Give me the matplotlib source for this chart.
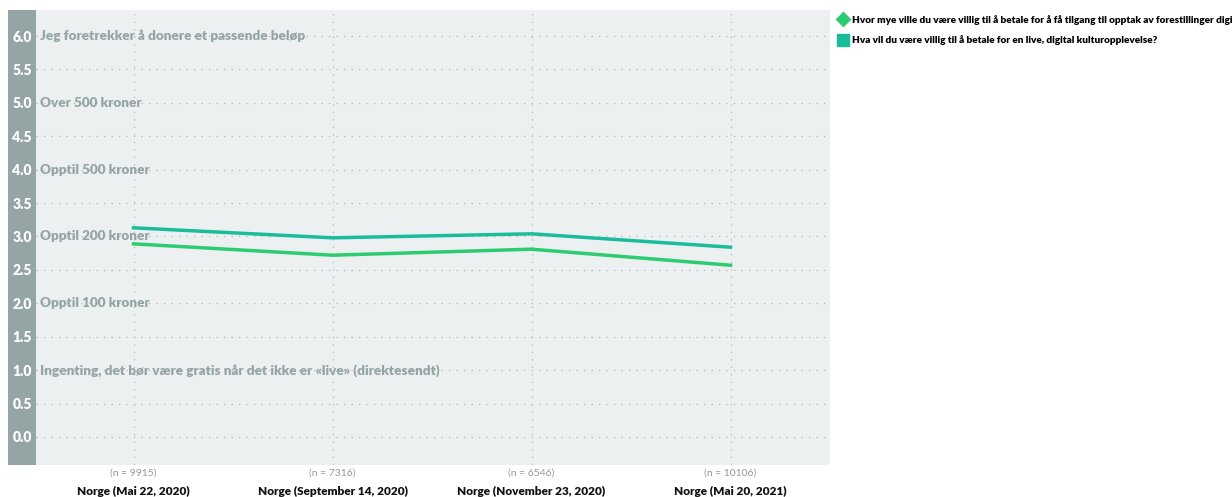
import matplotlib.pyplot as plt
from matplotlib.lines import Line2D
from matplotlib.patches import Rectangle

plt.rcParams['font.family'] = ['Lato', 'DejaVu Sans']

dates = ['Norge (Mai 22, 2020)', 'Norge (September 14, 2020)',
         'Norge (November 23, 2020)', 'Norge (Mai 20, 2021)']
n_counts = ['(n = 9915)', '(n = 7316)', '(n = 6546)', '(n = 10106)']
recording = [2.89, 2.72, 2.81, 2.57]
live = [3.13, 2.98, 3.04, 2.84]
series_names = ['Hvor mye ville du være villig til å betale for å få tilgang til opptak av forestillinger digitalt?',
                'Hva vil du være villig til å betale for en live, digital kulturopplevelse?']
answer_levels = [1, 2, 3, 4, 5, 6]
answer_labels = ['Ingenting, det bør være gratis når det ikke er «live» (direktesendt)',
                 'Opptil 100 kroner', 'Opptil 200 kroner', 'Opptil 500 kroner',
                 'Over 500 kroner', 'Jeg foretrekker å donere et passende beløp']

green = '#2ecc71'
teal = '#1abc9c'
grey = '#95a5a6'

W, H = 1232, 497
fig = plt.figure(figsize=(W / 100, H / 100), dpi=100)
ax = fig.add_axes([36 / W, 32 / H, 794 / W, 455 / H])
ax.set_facecolor('#ecf0f1')

# dark strip holding the y tick labels
fig.add_artist(Rectangle((8 / W, 32 / H), 28 / W, 455 / H, transform=fig.transFigure,
                         facecolor=grey, edgecolor='none', zorder=0))

x = range(len(dates))
ax.plot(x, recording, color=green, lw=2.5, zorder=3)
ax.plot(x, live, color=teal, lw=2.5, zorder=3)

ax.set_xlim(-0.49, 3.5)
ax.set_ylim(-0.42, 6.39)
yt = [i * 0.5 for i in range(13)]
ax.set_yticks(yt)
ax.set_yticklabels([f'{v:.1f}' for v in yt], color='white', fontweight='heavy', fontsize=10)
ax.tick_params(axis='y', length=0, pad=3)
ax.set_xticks(list(x))
ax.set_xticklabels([])
ax.tick_params(axis='x', length=0)
for v in yt:
    ax.axhline(v, color='#b0b8b9', lw=0.9, ls=(0, (1, 5)), zorder=1)
for xi in x:
    ax.axvline(xi, color='#b0b8b9', lw=0.9, ls=(0, (1, 5)), zorder=1)
for s in ax.spines.values():
    s.set_visible(False)

for lv, lab in zip(answer_levels, answer_labels):
    ax.text(-0.47, lv, lab, color=grey, fontsize=9.7, fontweight='heavy',
            va='center', ha='left', zorder=2)

tr = ax.get_xaxis_transform()
for xi, d, n in zip(x, dates, n_counts):
    ax.text(xi, -0.008, n, transform=tr, ha='center', va='top', fontsize=7.5, color='#999999')
    ax.text(xi, -0.045, d, transform=tr, ha='center', va='top', fontsize=8.5,
            fontweight='heavy', color='#111111')

handles = [Line2D([], [], ls='none', marker='D', ms=7, color=green),
           Line2D([], [], ls='none', marker='s', ms=8, color=teal)]
fig.legend(handles, series_names, loc='upper left', bbox_to_anchor=(835 / W, 1 - 11 / H),
           frameon=False, prop={'weight': 'heavy', 'size': 7.2}, handlelength=0.8,
           handletextpad=0.5, labelspacing=1.05, borderaxespad=0)

fig.savefig('out.png', dpi=100)
